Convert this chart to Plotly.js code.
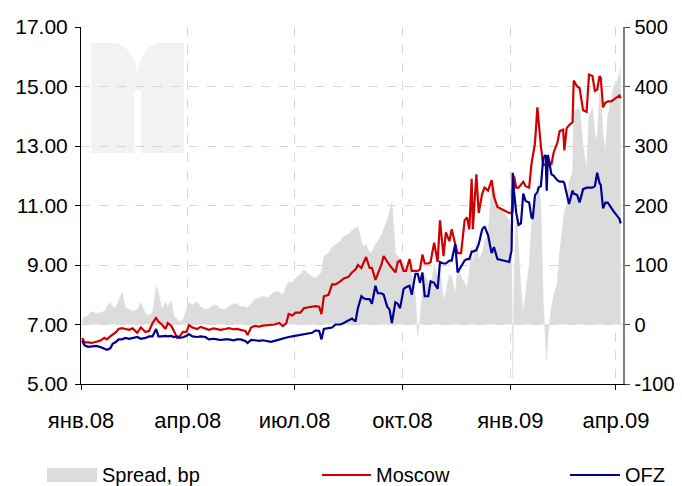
<!DOCTYPE html>
<html>
<head>
<meta charset="utf-8">
<script src="https://cdn.plot.ly/plotly-3.0.1.min.js"></script>
<style>html,body{margin:0;padding:0;background:#fff;}#chart{width:682px;height:486px;}</style>
</head>
<body>
<div id="chart"></div>
<script>
// ---- data ----
var dates = [
"2008-01-02","2008-01-04","2008-01-07","2008-01-10","2008-01-14","2008-01-17","2008-01-21","2008-01-23","2008-01-26","2008-01-28",
"2008-01-31","2008-02-02","2008-02-05","2008-02-08","2008-02-11","2008-02-14","2008-02-18","2008-02-21","2008-02-25","2008-02-28",
"2008-03-02","2008-03-05","2008-03-07","2008-03-10","2008-03-13","2008-03-15","2008-03-18","2008-03-20","2008-03-23","2008-03-25",
"2008-03-28","2008-03-31","2008-04-02","2008-04-05","2008-04-09","2008-04-12","2008-04-16","2008-04-19","2008-04-23","2008-04-26",
"2008-04-29","2008-05-03","2008-05-06","2008-05-10","2008-05-13","2008-05-16","2008-05-20","2008-05-22","2008-05-25","2008-05-28",
"2008-06-01","2008-06-04","2008-06-08","2008-06-11","2008-06-14","2008-06-18","2008-06-21","2008-06-24","2008-06-26","2008-06-29",
"2008-07-02","2008-07-06","2008-07-09","2008-07-13","2008-07-16","2008-07-19","2008-07-22","2008-07-24","2008-07-26","2008-07-30",
"2008-08-02","2008-08-05","2008-08-09","2008-08-12","2008-08-16","2008-08-19","2008-08-22","2008-08-24","2008-08-27","2008-08-29",
"2008-08-31","2008-09-03","2008-09-05","2008-09-08","2008-09-10","2008-09-13","2008-09-15","2008-09-18","2008-09-20","2008-09-22",
"2008-09-25","2008-09-27","2008-09-29","2008-10-02","2008-10-04","2008-10-07","2008-10-09","2008-10-12","2008-10-14","2008-10-16",
"2008-10-18","2008-10-20","2008-10-23","2008-10-25","2008-10-28","2008-10-31","2008-11-02","2008-11-05","2008-11-07","2008-11-10",
"2008-11-12","2008-11-15","2008-11-17","2008-11-20","2008-11-23","2008-11-25","2008-11-27","2008-11-29","2008-11-30","2008-12-03",
"2008-12-05","2008-12-08","2008-12-10","2008-12-13","2008-12-16","2008-12-18","2008-12-21","2008-12-26","2008-12-31","2009-01-02",
"2009-01-03","2009-01-04","2009-01-06","2009-01-08","2009-01-10","2009-01-12","2009-01-14","2009-01-17","2009-01-19","2009-01-20",
"2009-01-22","2009-01-24","2009-01-25","2009-01-27","2009-01-29","2009-01-31","2009-02-01","2009-02-02","2009-02-05","2009-02-07",
"2009-02-10","2009-02-12","2009-02-15","2009-02-16","2009-02-18","2009-02-20","2009-02-23","2009-02-24","2009-02-27","2009-03-01",
"2009-03-04","2009-03-07","2009-03-09","2009-03-12","2009-03-14","2009-03-16","2009-03-18","2009-03-19","2009-03-21","2009-03-23",
"2009-03-25","2009-03-28","2009-03-30","2009-04-02","2009-04-04","2009-04-05"
];
var moscow = [
6.55,6.40,6.40,6.38,6.42,6.45,6.55,6.50,6.60,6.65,
6.75,6.85,6.88,6.85,6.82,6.87,6.72,6.90,6.75,6.78,
7.05,7.22,7.10,7.00,6.85,7.05,6.95,6.80,6.55,6.60,
6.75,6.75,6.98,6.90,6.85,6.92,6.85,6.82,6.87,6.85,
6.82,6.85,6.88,6.84,6.85,6.82,6.78,6.65,6.90,6.95,
6.93,6.96,6.98,7.00,7.00,7.05,6.95,7.05,7.35,7.30,
7.40,7.40,7.55,7.58,7.60,7.62,7.60,7.35,7.95,8.00,
8.35,8.35,8.45,8.55,8.60,8.75,8.85,9.00,8.90,9.10,
9.27,8.90,8.90,8.50,8.70,9.00,9.30,9.10,9.00,8.90,
8.75,9.10,9.15,8.80,8.80,9.20,8.80,8.80,8.80,8.85,
9.35,9.05,9.05,9.10,9.75,9.10,10.50,9.30,10.10,9.80,
10.20,9.70,9.40,9.40,10.50,10.60,10.20,11.90,10.20,12.05,
10.75,11.40,11.60,11.50,11.85,11.30,10.95,10.85,10.75,10.75,
10.80,12.00,11.60,11.60,11.70,11.80,11.65,11.60,12.40,12.60,
13.10,14.30,13.80,13.00,12.35,12.40,12.40,12.50,12.40,12.80,
13.10,13.50,13.55,12.85,13.60,13.70,13.80,15.20,15.00,14.95,
14.20,14.15,15.40,15.35,14.85,14.90,15.35,15.30,14.30,14.45,
14.50,14.50,14.55,14.65,14.70,14.60
];
var ofz = [
6.45,6.30,6.25,6.27,6.28,6.25,6.20,6.15,6.20,6.35,
6.42,6.50,6.50,6.55,6.52,6.55,6.58,6.52,6.55,6.60,
6.60,6.85,6.60,6.60,6.62,6.60,6.62,6.58,6.60,6.55,
6.57,6.62,6.68,6.60,6.58,6.60,6.58,6.50,6.52,6.50,
6.48,6.50,6.50,6.47,6.50,6.50,6.45,6.38,6.48,6.47,
6.45,6.47,6.45,6.42,6.45,6.50,6.52,6.55,6.58,6.60,
6.62,6.65,6.68,6.70,6.72,6.80,6.78,6.50,6.85,6.88,
6.90,7.00,7.00,7.05,7.12,7.20,7.10,7.55,7.95,7.88,
7.85,7.85,7.70,8.30,8.05,8.05,8.00,7.60,7.50,7.05,
7.75,7.70,7.55,8.20,8.25,8.30,8.00,8.70,8.70,8.40,
8.75,7.95,7.95,8.45,8.40,8.20,9.10,9.05,9.05,9.15,
9.15,9.70,8.75,8.95,9.15,9.20,9.20,9.45,9.45,9.50,
9.70,10.20,10.30,10.00,9.40,9.60,9.20,9.15,9.10,9.50,
12.10,11.50,10.75,10.35,10.40,11.40,11.15,11.10,10.60,10.55,
11.35,11.45,11.60,11.65,12.60,12.70,11.50,12.70,12.05,12.00,
11.85,11.80,11.80,11.75,11.40,11.05,11.50,11.40,11.35,11.10,
11.55,11.60,11.60,11.60,11.65,12.10,11.75,11.70,10.90,11.10,
11.10,10.90,10.80,10.65,10.55,10.40
];
var spread = [
10,12,15,22,18,20,22,30,37,28,
30,40,55,28,25,22,25,37,18,15,
20,64,55,25,38,30,40,15,8,5,
8,25,37,33,38,30,25,27,33,32,
26,25,30,35,35,30,30,28,35,42,
45,48,45,50,55,55,50,65,72,70,
78,85,92,85,80,78,85,88,115,120,
130,135,140,148,152,158,162,165,140,130,
135,120,122,135,140,150,160,175,190,205,
120,115,110,105,90,100,85,50,-20,10,
60,85,70,60,100,80,95,40,55,85,
80,50,100,80,70,60,90,130,100,140,
110,120,140,150,230,240,200,190,175,140,
-90,60,200,130,60,20,50,100,170,180,
200,230,240,200,40,-30,-60,-20,30,50,
70,120,170,190,200,240,255,360,360,365,
300,260,350,365,320,310,390,380,320,290,
350,380,400,410,420,435
];
var tickDates = ["2008-01-01","2008-04-01","2008-07-01","2008-10-01","2009-01-01","2009-04-01"];
var tickLabels = ["янв.08","апр.08","июл.08","окт.08","янв.09","апр.09"];
var leftTicks = [5,7,9,11,13,15,17];
var rightTicks = [-100,0,100,200,300,400,500];
var rightLabels = ["-100","0","100","200","300","400","500"];
var seriesNames = ["Spread, bp","Moscow","OFZ"];
var seriesColors = ["#dcdcdc","#d00000","#000090"];

// ---- layout helpers (pixel geometry of the plot area) ----
var W = 682, H = 486, L = 81, R = 623, T = 27, B = 384;
function px(x){ return (x - L) / (R - L); }
function py(y){ return (B - y) / (B - T); }
var FONT = "Liberation Sans, Arial, sans-serif";

var traces = [
  {x: dates, y: spread, name: seriesNames[0], type: "scatter", mode: "lines",
   yaxis: "y", fill: "tozeroy", fillcolor: seriesColors[0],
   line: {color: seriesColors[0], width: 0.5}},
  {x: dates, y: moscow, name: seriesNames[1], type: "scatter", mode: "lines",
   yaxis: "y2", line: {color: seriesColors[1], width: 2.2}},
  {x: dates, y: ofz, name: seriesNames[2], type: "scatter", mode: "lines",
   yaxis: "y2", line: {color: seriesColors[2], width: 2.2}}
];

// watermark path (pixel coordinates converted to paper)
function P(x, y){ return px(x).toFixed(4) + "," + py(y).toFixed(4); }
var wm = "M" + P(91,153) + " L" + P(91,43) + " L" + P(116,43) +
         " Q" + P(133,48) + " " + P(137,73) + " Q" + P(141,48) + " " + P(158,43) +
         " L" + P(184,43) + " L" + P(184,153) + " L" + P(141,153) + " L" + P(141,92) +
         " Q" + P(137.5,86) + " " + P(134,92) + " L" + P(134,153) + " Z";

var shapes = [
  {type: "path", xref: "paper", yref: "paper", path: wm, fillcolor: "#f2f2f2",
   line: {width: 0}, layer: "below"},
  {type: "rect", xref: "paper", yref: "paper", x0: px(47), x1: px(97), y0: py(482), y1: py(468),
   fillcolor: seriesColors[0], line: {width: 0}},
  {type: "line", xref: "paper", yref: "paper", x0: px(322), x1: px(371), y0: py(475), y1: py(475),
   line: {color: seriesColors[1], width: 2.2}},
  {type: "line", xref: "paper", yref: "paper", x0: px(570), x1: px(620), y0: py(475), y1: py(475),
   line: {color: seriesColors[2], width: 2.2}}
];
var annotations = [
  {text: seriesNames[0], x: px(100), y: py(475), xref: "paper", yref: "paper", xanchor: "left", yanchor: "middle", showarrow: false, font: {family: FONT, size: 20, color: "#000"}},
  {text: seriesNames[1], x: px(374), y: py(475), xref: "paper", yref: "paper", xanchor: "left", yanchor: "middle", showarrow: false, font: {family: FONT, size: 20, color: "#000"}},
  {text: seriesNames[2], x: px(623), y: py(475), xref: "paper", yref: "paper", xanchor: "left", yanchor: "middle", showarrow: false, font: {family: FONT, size: 20, color: "#000"}}
];

var grid = {showgrid: true, gridcolor: "#d6d6d6", griddash: "dash", gridwidth: 1};

var layout = {
  width: W, height: H,
  margin: {l: L, r: W - R, t: T, b: H - B, pad: 0},
  paper_bgcolor: "#fff", plot_bgcolor: "#fff",
  showlegend: false,
  font: {family: FONT, size: 20, color: "#000"},
  xaxis: Object.assign({type: "date", range: ["2008-01-01", "2009-04-07"],
    tickmode: "array", tickvals: tickDates, ticktext: tickLabels,
    ticks: "outside", ticklen: 5, tickcolor: "#000",
    showline: true, linecolor: "#000", linewidth: 1,
    zeroline: false, ticklabelstandoff: 12,
    tickfont: {family: FONT, size: 22, color: "#000"}, fixedrange: true}, grid),
  // primary y: spread (bp), shown on the right
  yaxis: Object.assign({range: [-100, 500], side: "right",
    tickmode: "array", tickvals: rightTicks, ticktext: rightLabels,
    ticks: "outside", ticklen: 5, tickcolor: "#444",
    showline: true, linecolor: "#808080", linewidth: 1.5,
    zeroline: false, ticklabelstandoff: 1,
    tickfont: {family: FONT, size: 20, color: "#000"}, fixedrange: true}, grid),
  // secondary y: yields (%), shown on the left, drawn above the area
  yaxis2: {range: [5, 17], overlaying: "y", side: "left",
    tickmode: "array", tickvals: leftTicks, tickformat: ".2f",
    ticks: "outside", ticklen: 5, tickcolor: "#000",
    showline: true, linecolor: "#000", linewidth: 1,
    showgrid: false, zeroline: false, ticklabelstandoff: 3,
    tickfont: {family: FONT, size: 21, color: "#000"}, fixedrange: true},
  shapes: shapes,
  annotations: annotations
};

Plotly.newPlot("chart", traces, layout, {displayModeBar: false, staticPlot: true});
</script>
</body>
</html>
